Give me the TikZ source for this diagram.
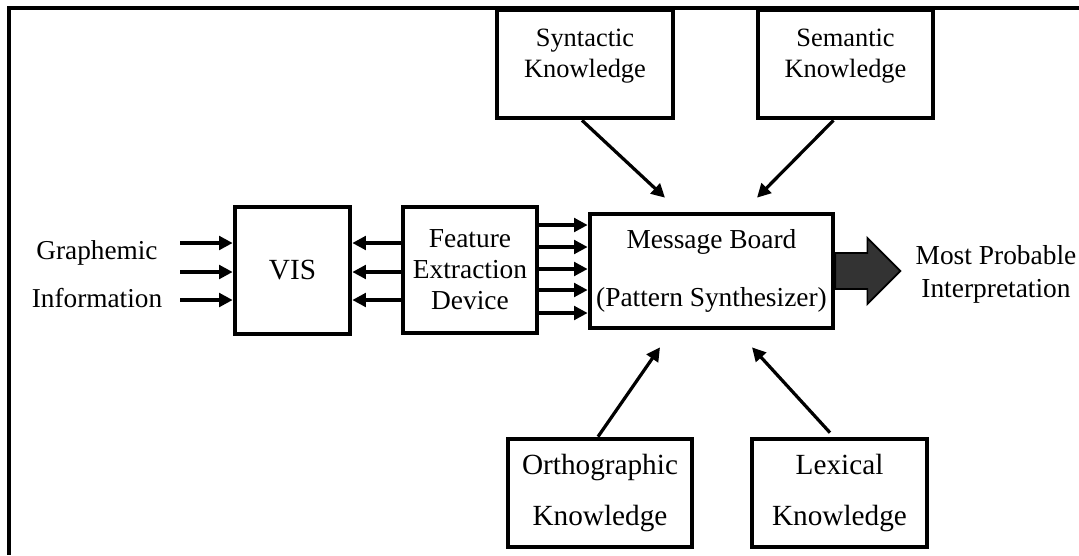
\documentclass[tikz,border=0pt]{standalone}
\usepackage{fontspec}
\setmainfont{Liberation Serif}
\usetikzlibrary{arrows.meta,calc}

\begin{document}
\begin{tikzpicture} [
    x=0.025cm, y=-0.025cm,
    block/.style    = { rectangle, draw, line width=3.3pt, text centered,
                        align=center, inner sep=0pt,
                        font=\fontsize{19.5}{22}\selectfont },
    know/.style     = { block, minimum width=4.4cm, minimum height=2.7cm },
    line/.style     = { draw, line width=2.3pt, -{Triangle[length=3.4mm,width=3.4mm]} },
    plain/.style    = { align=center, inner sep=0pt },
  ]
  \useasboundingbox (0,0) rectangle (1079,555);

  % outer frame
  \draw[line width=2.4pt] (1079,8) -- (9,8) -- (9,555);

  % Define nodes
  \node[know, font=\fontsize{18.8}{22}\selectfont, text depth=15pt] (syn) at (585,64) {Syntactic\\Knowledge};
  \node[know, minimum width=4.375cm, font=\fontsize{18.8}{22}\selectfont, text depth=15pt] (sem) at (845.5,64) {Semantic\\Knowledge};
  \node[block, minimum width=6.075cm, minimum height=2.85cm,
        font=\fontsize{19.5}{41}\selectfont] (mb) at (711.5,271) {Message Board\\(Pattern Synthesizer)};
  \node[block, minimum width=3.35cm, minimum height=3.15cm] (fed) at (470,270) {Feature\\Extraction\\Device};
  \node[block, minimum width=2.875cm, minimum height=3.175cm,
        font=\fontsize{20.8}{24}\selectfont] (vis) at (292.5,270.5) {VIS};
  \node[know, minimum width=4.6cm, font=\fontsize{20.8}{36.3}\selectfont] (orth) at (600,493) {Orthographic\\Knowledge};
  \node[know, minimum width=4.375cm, font=\fontsize{20.8}{36.3}\selectfont] (lex) at (839.5,493) {Lexical\\Knowledge};

  \node[plain, font=\fontsize{19.4}{34}\selectfont] (graph) at (97,274) {Graphemic\\Information};
  \node[plain, font=\fontsize{19.5}{23.5}\selectfont] (outp) at (996,274.5) {Most Probable\\Interpretation};

  % connect the nodes
  \foreach \y [count=\i] in {243,272,300} {
    \coordinate (in\i) at (180,\y);
    \path [line] (in\i) -- (in\i -| vis.west);
    \path [line] (in\i -| fed.west) -- (in\i -| vis.east);
  }
  \foreach \y in {225,247,269,290,313}
    \path [line] (fed.east |- 0,\y) -- (mb.west |- 0,\y);

  \path [line] ($(syn.south)+(-3,0)$) -- ($(mb.north)+(-46.5,-14)$);
  \path [line] ($(sem.south)+(-12,0)$) -- ($(mb.north)+(45.5,-14)$);
  \path [line] ($(orth.north)+(-2,0)$) -- ($(mb.south)+(-51.5,17)$);
  \path [line] ($(lex.north)+(-9.5,-4)$) -- ($(mb.south)+(40.5,17)$);

  % output arrow
  \draw[line width=1.2pt, fill=black!80] ($(mb.east)+(0,-18)$) -- ++(32,0) -- ++(0,-15)
    -- ++(33,33) -- ++(-33,33) -- ++(0,-15) -- ++(-32,0) -- cycle;
\end{tikzpicture}
\end{document}
